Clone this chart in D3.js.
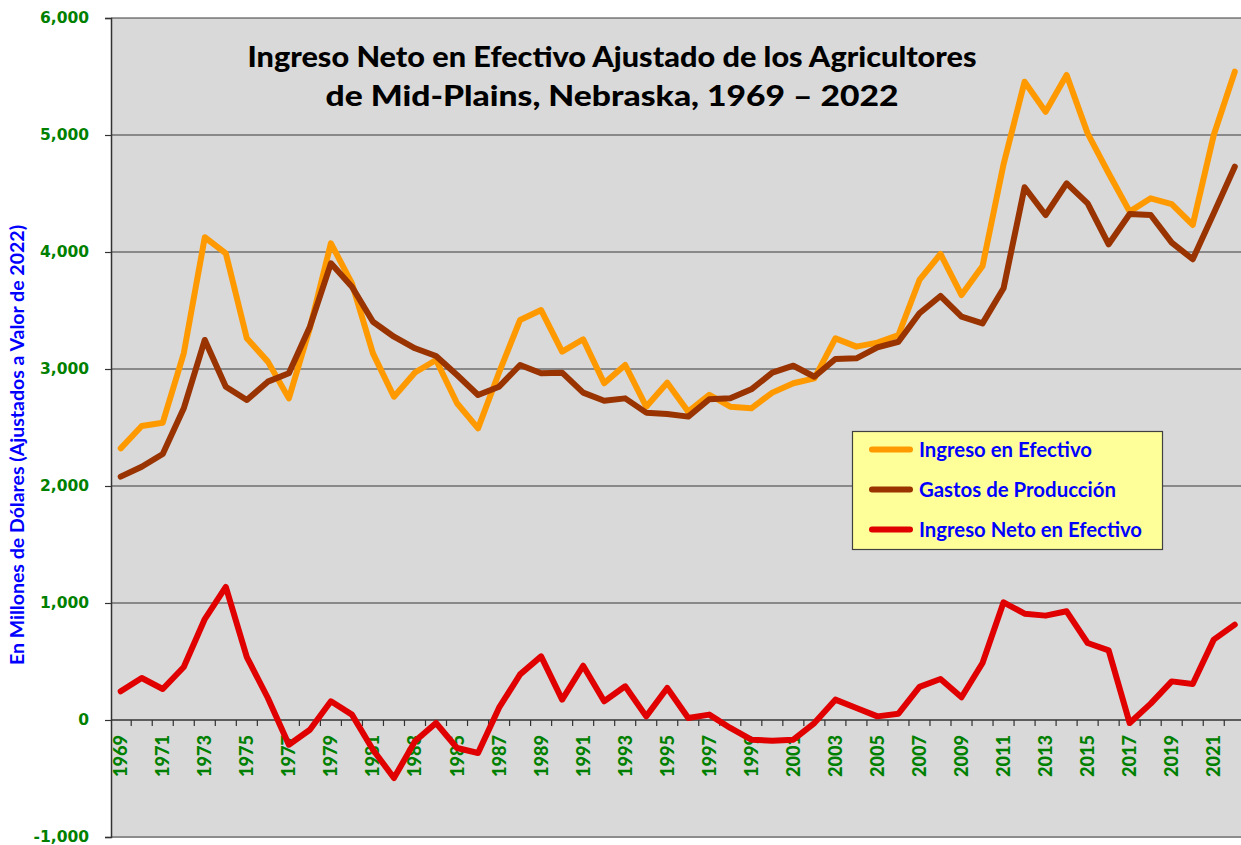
<!DOCTYPE html>
<html><head><meta charset="utf-8">
<script src="https://cdn.jsdelivr.net/npm/d3@7"></script>
<style>body{margin:0;background:#fff}svg{display:block}</style>
</head><body>
<svg id="c" width="1241" height="845"></svg>
<script>
const years = d3.range(1969, 2023);
const ingreso = [2322,2513,2541,3134,4126,3989,3262,3063,2749,3350,4074,3732,3134,2763,2970,3077,2707,2493,2970,3419,3504,3148,3254,2878,3034,2678,2883,2635,2780,2678,2664,2798,2878,2920,3262,3191,3225,3291,3761,3983,3632,3880,4750,5455,5199,5513,5014,4673,4345,4459,4410,4231,5000,5541];
const gastos = [2080,2165,2274,2664,3248,2849,2735,2892,2963,3362,3903,3703,3404,3276,3177,3111,2949,2778,2849,3034,2963,2969,2798,2729,2749,2627,2615,2593,2741,2749,2826,2969,3028,2934,3085,3091,3185,3233,3476,3624,3447,3390,3690,4553,4316,4587,4416,4066,4325,4316,4080,3938,4331,4729];
const neto = [245,359,265,453,863,1137,538,188,-211,-83,160,46,-254,-496,-182,-26,-239,-282,105,390,544,174,464,160,288,31,274,17,46,-68,-168,-177,-168,-26,174,103,31,54,283,350,194,487,1006,909,892,929,658,595,-26,140,330,308,687,815];
const yTicks = [-1000,0,1000,2000,3000,4000,5000,6000];
const seriesNames = ["Ingreso en Efectivo","Gastos de Producción","Ingreso Neto en Efectivo"];
const seriesColors = ["#FF9900","#993300","#E00000"];
const titleLines = ["Ingreso Neto en Efectivo Ajustado de los Agricultores","de Mid-Plains, Nebraska, 1969 – 2022"];
const yTitle = "En Millones de Dólares (Ajustados a Valor de 2022)";

const svg = d3.select("#c");
const L = 111, T = 18, B = 837;
const x = d3.scaleBand().domain(years).range([110.2, 110.2 + 54*21.02]);
const xc = d => x(d) + x.bandwidth()/2;
const y = d3.scaleLinear().domain([-1000, 6000]).range([B, T]);

svg.append("rect").attr("x", L).attr("y", T).attr("width", 1241 - L).attr("height", B - T).attr("fill", "#d9d9d9");
svg.append("g").selectAll("line").data(yTicks.filter(d => d !== 0 && d !== -1000)).join("line")
  .attr("x1", L).attr("x2", 1241).attr("y1", d => y(d)).attr("y2", d => y(d))
  .attr("stroke", "#3a3a3a").attr("stroke-width", 1.2);
svg.append("line").attr("x1", L).attr("x2", 1241).attr("y1", B).attr("y2", B).attr("stroke", "#8c8c8c").attr("stroke-width", 2);

const fmt = d3.format(",");
const yAxis = d3.axisLeft(y).tickValues(yTicks).tickSize(6).tickFormat(d => fmt(d).replace("\u2212", "-"));
const gy = svg.append("g").attr("transform", `translate(${L},0)`).call(yAxis);
gy.select(".domain").attr("stroke", "#333").attr("stroke-width", 1.5);
gy.selectAll(".tick line").attr("stroke", "#333").attr("stroke-width", 1.2);
gy.selectAll(".tick text").attr("x", -22).attr("fill", "#008000")
  .style("font-family", "DejaVu Sans").style("font-weight", "bold").style("font-size", "15.5px");

const gx = svg.append("g").attr("transform", `translate(0,${y(0)})`);
gx.append("line").attr("x1", L).attr("x2", 1241).attr("stroke", "#333").attr("stroke-width", 1.5);
gx.selectAll("line.tk").data(years.slice(1)).join("line").attr("class", "tk")
  .attr("x1", d => x(d)).attr("x2", d => x(d)).attr("y1", 0).attr("y2", 6)
  .attr("stroke", "#333").attr("stroke-width", 1.2);
gx.selectAll("text").data(years.filter(d => (d - 1969) % 2 === 0)).join("text")
  .attr("transform", d => `translate(${xc(d)},15) rotate(-90)`)
  .attr("text-anchor", "end").attr("dy", "0.36em")
  .attr("textLength", 42).attr("lengthAdjust", "spacingAndGlyphs")
  .attr("fill", "#008000")
  .style("font-family", "Lato").style("font-weight", "900").style("font-size", "18px")
  .text(d => d);

const line = d3.line().x((d, i) => xc(years[i])).y(d => y(d));
[ingreso, gastos, neto].forEach((s, i) => {
  svg.append("path").datum(s).attr("d", line).attr("fill", "none")
    .attr("stroke", seriesColors[i]).attr("stroke-width", 6)
    .attr("stroke-linejoin", "round").attr("stroke-linecap", "round");
});

const titleLen = [729, 573];
svg.append("g").selectAll("text").data(titleLines).join("text")
  .attr("x", 612).attr("y", (d, i) => 67 + i * 39).attr("text-anchor", "middle")
  .attr("textLength", (d, i) => titleLen[i]).attr("lengthAdjust", "spacingAndGlyphs")
  .attr("fill", "#000").style("font-family", "Lato").style("font-weight", "900").style("font-size", "28px")
  .text(d => d);

svg.append("text").attr("transform", "translate(18,445) rotate(-90)").attr("text-anchor", "middle")
  .attr("dy", "0.35em").attr("fill", "#0000FF")
  .attr("textLength", 440).attr("lengthAdjust", "spacingAndGlyphs")
  .style("font-family", "Lato").style("font-weight", "bold").style("font-size", "18.5px")
  .text(yTitle);

const legLen = [173, 197, 223];
const lg = svg.append("g");
lg.append("rect").attr("x", 852.5).attr("y", 431.5).attr("width", 310).attr("height", 118)
  .attr("fill", "#FFFF99").attr("stroke", "#404040").attr("stroke-width", 1.2);
seriesNames.forEach((n, i) => {
  const yy = 449.5 + i * 40;
  lg.append("line").attr("x1", 872).attr("x2", 910).attr("y1", yy).attr("y2", yy)
    .attr("stroke", seriesColors[i]).attr("stroke-width", 6).attr("stroke-linecap", "round");
  lg.append("text").attr("x", 919).attr("y", yy).attr("dy", "0.36em").attr("fill", "#0000FF")
    .attr("textLength", legLen[i]).attr("lengthAdjust", "spacingAndGlyphs")
    .style("font-family", "Lato").style("font-weight", "bold").style("font-size", "20px").text(n);
});
</script>
</body></html>
